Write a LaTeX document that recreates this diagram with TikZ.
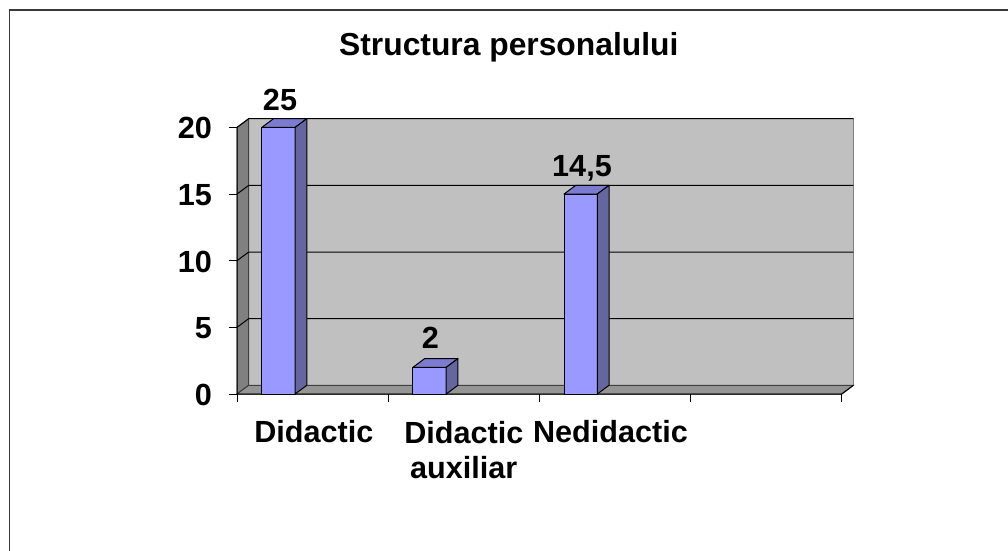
\documentclass[tikz,border=0pt]{standalone}
\usepackage{fontspec}
\setmainfont{Liberation Sans}
\definecolor{barfront}{HTML}{9999FF}
\definecolor{bartop}{HTML}{7B7BD0}
\definecolor{barside}{HTML}{66669E}
\definecolor{wallback}{HTML}{C0C0C0}
\definecolor{wallside}{HTML}{808080}
\definecolor{floorc}{HTML}{959595}
\definecolor{framec}{HTML}{3A3A3A}
\tikzset{
  lbl/.style={font=\bfseries\fontsize{30.6}{35.6}\selectfont, inner sep=0pt},
  ttl/.style={font=\bfseries\fontsize{31.8}{36}\selectfont, inner sep=0pt},
  axisline/.style={draw=black, line width=1pt},
  gridl/.style={draw=black, line width=1pt},
  barline/.style={draw=black, line width=1pt, line join=round},
}
\begin{document}
\begin{tikzpicture}[x=1pt,y=-1pt]
\useasboundingbox (0,0) rectangle (1008,550);
% outer frame
\draw[framec, line width=1.6pt] (9.5,570) -- (9.5,10) -- (1030,10);
% title
\node[ttl, anchor=base] (title) at (508.8,55) {Structura personalului};
% back wall
\filldraw[fill=wallback, draw=wallside, line width=1pt] (248.7,118.7) rectangle (853.3,385.3);
% left wall
\filldraw[fill=wallside, draw=black!75, line width=1pt] (237,394) -- (237,127.4) -- (248.7,118.7) -- (248.7,385.3) -- cycle;
% floor
\filldraw[fill=floorc, draw=black!75, line width=1pt] (237,394) -- (841.7,394) -- (853.4,385.3) -- (248.7,385.3) -- cycle;
% gridlines
\foreach \yy in {327.35,260.7,194.05,127.4}{
  \draw[gridl] (237,\yy) -- (248.7,{\yy-8.7}) -- (853.3,{\yy-8.7});
}
% axes
\draw[axisline] (237,127.4) -- (237,394) -- (841.7,394) -- (853.4,385.3);
\foreach \yy in {127.4,194.05,260.7,327.35,394}{
  \draw[axisline] (229,\yy) -- (237,\yy);
}
\foreach \xx in {237.3,388.4,539.5,690.6,841.7}{
  \draw[axisline] (\xx,394) -- (\xx,402);
}
% bars
\foreach \xx/\yy in {261.8/127.4, 412.9/367.34, 564.0/194.05}{
  \filldraw[fill=barfront, barline] (\xx,\yy) rectangle ({\xx+33.3},394);
  \filldraw[fill=bartop, barline] (\xx,\yy) -- ({\xx+11.7},{\yy-8.7}) -- ({\xx+45},{\yy-8.7}) -- ({\xx+33.3},\yy) -- cycle;
  \filldraw[fill=barside, barline] ({\xx+33.3},\yy) -- ({\xx+45},{\yy-8.7}) -- ({\xx+45},385.3) -- ({\xx+33.3},394) -- cycle;
}
% value labels
\node[lbl, anchor=base] (v1) at (280,110) {25};
\node[lbl, anchor=base] (v2) at (430.5,348.3) {2};
\node[lbl, anchor=base] (v3) at (582,176) {14,5};
% y axis labels
\node[lbl, anchor=base east] (y20) at (212,138.8) {20};
\node[lbl, anchor=base east] (y15) at (212,205.4) {15};
\node[lbl, anchor=base east] (y10) at (212,272.1) {10};
\node[lbl, anchor=base east] (y5) at (212,338.7) {5};
\node[lbl, anchor=base east] (y0) at (212,405.4) {0};
% category labels
\node[lbl, anchor=base] (c1) at (313.8,442.7) {Didactic};
\node[lbl, anchor=north, align=center] (c2) at (463.8,420.8) {Didactic\\auxiliar};
\node[lbl, anchor=base] (c3) at (610.5,442.7) {Nedidactic};
\end{tikzpicture}
\end{document}
